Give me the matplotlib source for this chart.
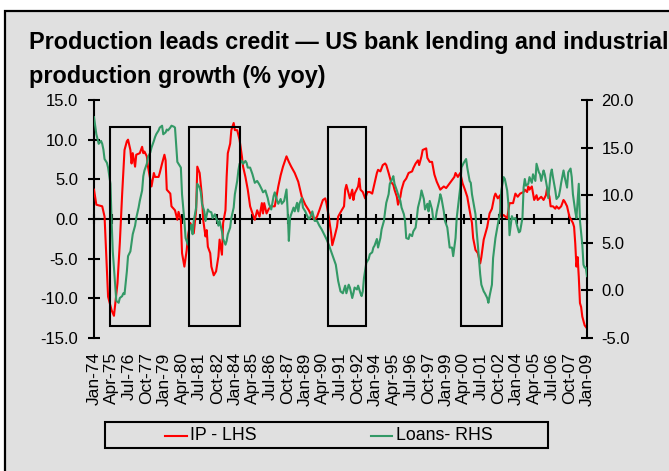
import matplotlib
matplotlib.use("Agg")
import matplotlib.pyplot as plt
from matplotlib.patches import Rectangle
from matplotlib.lines import Line2D

plt.rcParams['font.family'] = ['Liberation Sans', 'DejaVu Sans']

# industrial production, % yoy (left axis)
ip = [
    ("1974-01", 3.7), ("1974-03", 1.8), ("1974-08", 1.6), ("1974-10", 0.3),
    ("1975-01", -9.8), ("1975-04", -11.5), ("1975-06", -12.2), ("1975-09", -8.1),
    ("1975-11", -3.0), ("1976-01", 3.2), ("1976-03", 8.7), ("1976-05", 9.8),
    ("1976-06", 10.0), ("1976-08", 8.7), ("1976-09", 7.0), ("1976-10", 8.3),
    ("1976-12", 6.6), ("1977-01", 8.1), ("1977-04", 8.3), ("1977-06", 9.1),
    ("1977-07", 8.3), ("1977-08", 8.5), ("1977-10", 7.9), ("1977-11", 6.6),
    ("1978-02", 4.1), ("1978-04", 5.8), ("1978-05", 5.3), ("1978-08", 5.3),
    ("1978-09", 5.8), ("1978-11", 7.0), ("1979-01", 8.1), ("1979-02", 7.4),
    ("1979-03", 3.7), ("1979-06", 3.2), ("1979-07", 1.6), ("1979-10", 1.1),
    ("1979-12", -0.1), ("1980-01", 0.9), ("1980-03", -0.1), ("1980-04", -4.3),
    ("1980-06", -6.0), ("1980-08", -3.9), ("1980-09", -2.2), ("1980-11", -0.5),
    ("1980-12", -1.0), ("1981-02", -1.8), ("1981-04", 1.1), ("1981-05", 6.6),
    ("1981-07", 5.8), ("1981-09", 2.8), ("1981-10", -0.1), ("1981-12", -2.2),
    ("1982-01", -1.4), ("1982-02", -3.5), ("1982-04", -4.3), ("1982-05", -6.0),
    ("1982-07", -7.1), ("1982-09", -6.6), ("1982-11", -4.7), ("1982-12", -2.6),
    ("1983-02", -4.5), ("1983-03", -0.5), ("1983-05", 1.1), ("1983-06", 5.3),
    ("1983-07", 8.3), ("1983-09", 9.5), ("1983-10", 11.2), ("1983-12", 12.1),
    ("1984-01", 11.2), ("1984-03", 11.2), ("1984-05", 10.0), ("1984-07", 7.9),
    ("1984-08", 6.6), ("1984-10", 5.3), ("1984-12", 3.7), ("1985-02", 1.6),
    ("1985-04", 0.7), ("1985-06", -0.1), ("1985-08", 1.1), ("1985-10", 0.3),
    ("1985-12", 2.0), ("1986-01", 0.7), ("1986-02", 2.0), ("1986-04", 0.7),
    ("1986-06", 1.3), ("1986-08", 1.6), ("1986-11", 1.6), ("1987-02", 4.1),
    ("1987-04", 5.5), ("1987-06", 6.6), ("1987-09", 7.9), ("1987-11", 7.2),
    ("1988-01", 6.6), ("1988-04", 5.8), ("1988-07", 4.7), ("1988-10", 2.8),
    ("1989-01", 1.8), ("1989-04", 1.1), ("1989-06", 0.5), ("1989-09", -0.1),
    ("1989-11", 0.3), ("1990-01", 1.1), ("1990-04", 2.4), ("1990-06", 2.6),
    ("1990-07", 2.0), ("1990-09", 0.3), ("1990-11", -1.8), ("1990-12", -3.3),
    ("1991-02", -2.2), ("1991-04", -1.0), ("1991-05", 0.3), ("1991-08", 1.1),
    ("1991-10", 1.6), ("1991-11", 3.7), ("1991-12", 4.3), ("1992-03", 2.6),
    ("1992-05", 3.7), ("1992-06", 2.4), ("1992-07", 3.2), ("1992-10", 4.1),
    ("1992-11", 5.1), ("1992-12", 3.7), ("1993-02", 3.4), ("1993-04", 2.6),
    ("1993-06", 3.4), ("1993-08", 3.4), ("1993-10", 3.2), ("1993-12", 4.5),
    ("1994-02", 5.8), ("1994-03", 6.2), ("1994-05", 6.0), ("1994-07", 6.8),
    ("1994-09", 7.0), ("1994-10", 6.8), ("1994-12", 5.8), ("1995-02", 4.7),
    ("1995-04", 4.3), ("1995-05", 3.7), ("1995-07", 2.8), ("1995-08", 1.8),
    ("1995-10", 2.8), ("1995-11", 3.7), ("1996-01", 4.7), ("1996-03", 5.1),
    ("1996-05", 5.8), ("1996-08", 6.0), ("1996-09", 6.4), ("1996-11", 7.0),
    ("1997-01", 7.4), ("1997-02", 6.8), ("1997-04", 7.9), ("1997-05", 8.7),
    ("1997-08", 8.9), ("1997-09", 7.7), ("1997-11", 7.2), ("1998-01", 7.2),
    ("1998-03", 5.6), ("1998-05", 4.7), ("1998-08", 3.7), ("1998-11", 4.1),
    ("1999-01", 3.9), ("1999-04", 4.5), ("1999-06", 4.9), ("1999-08", 5.3),
    ("1999-09", 5.8), ("1999-11", 5.3), ("2000-01", 5.8), ("2000-03", 4.5),
    ("2000-05", 3.7), ("2000-07", 2.8), ("2000-09", 1.1), ("2000-11", -0.5),
    ("2000-12", -2.4), ("2001-02", -3.9), ("2001-04", -4.3), ("2001-06", -5.6),
    ("2001-07", -4.8), ("2001-09", -2.6), ("2001-12", -1.0), ("2002-02", 0.7),
    ("2002-04", 1.3), ("2002-06", 2.8), ("2002-07", 3.2), ("2002-09", 2.6),
    ("2002-11", 3.0), ("2002-12", 0.3), ("2003-02", 0.5), ("2003-05", 0.1),
    ("2003-07", 2.0), ("2003-10", 2.0), ("2003-12", 3.2), ("2004-02", 2.8),
    ("2004-04", 3.2), ("2004-07", 3.4), ("2004-08", 3.7), ("2004-10", 3.4),
    ("2004-11", 4.1), ("2004-12", 3.7), ("2005-02", 4.1), ("2005-04", 2.4),
    ("2005-06", 3.0), ("2005-07", 2.4), ("2005-10", 2.8), ("2005-12", 2.4),
    ("2006-02", 3.0), ("2006-03", 3.9), ("2006-05", 2.8), ("2006-06", 1.6),
    ("2006-08", 1.6), ("2006-10", 1.3), ("2006-11", 1.6), ("2007-01", 1.3),
    ("2007-03", 1.6), ("2007-05", 2.4), ("2007-06", 2.2), ("2007-08", 1.6),
    ("2007-10", 0.3), ("2008-01", -0.5), ("2008-02", -1.0), ("2008-03", -3.1),
    ("2008-04", -6.0), ("2008-05", -4.8), ("2008-06", -7.3), ("2008-07", -10.6),
    ("2008-08", -11.1), ("2008-09", -12.3), ("2008-11", -13.4), ("2009-01", -13.8),
]

# bank loans, % yoy (right axis)
loans = [
    ("1974-01", 18.2), ("1974-03", 16.4), ("1974-04", 15.9), ("1974-05", 15.4),
    ("1974-07", 15.7), ("1974-08", 15.4), ("1974-09", 14.8), ("1974-10", 13.8),
    ("1974-12", 13.4), ("1975-01", 12.9), ("1975-03", 11.2), ("1975-04", 7.3),
    ("1975-05", 4.1), ("1975-07", 0.6), ("1975-08", -1.1), ("1975-10", -1.3),
    ("1975-11", -0.8), ("1976-01", -0.6), ("1976-02", -0.3), ("1976-03", -0.4),
    ("1976-05", 2.0), ("1976-06", 3.6), ("1976-08", 4.1), ("1976-09", 5.0),
    ("1976-10", 5.9), ("1976-12", 6.8), ("1977-01", 7.6), ("1977-03", 8.7),
    ("1977-04", 9.4), ("1977-06", 10.5), ("1977-07", 12.0), ("1977-08", 12.6),
    ("1977-10", 13.3), ("1977-11", 14.0), ("1978-01", 14.5), ("1978-02", 15.0),
    ("1978-04", 15.7), ("1978-05", 16.1), ("1978-06", 16.4), ("1978-08", 16.8),
    ("1978-09", 17.1), ("1978-11", 17.3), ("1978-12", 16.4), ("1979-02", 16.6),
    ("1979-03", 16.9), ("1979-04", 16.8), ("1979-06", 17.1), ("1979-07", 17.3),
    ("1979-09", 17.2), ("1979-10", 17.1), ("1979-12", 13.5), ("1980-01", 13.3),
    ("1980-03", 12.9), ("1980-04", 10.1), ("1980-06", 7.3), ("1980-07", 5.5),
    ("1980-09", 4.8), ("1980-10", 6.2), ("1980-12", 6.9), ("1981-01", 5.9),
    ("1981-02", 7.3), ("1981-04", 8.7), ("1981-05", 11.2), ("1981-07", 10.8),
    ("1981-08", 10.3), ("1981-09", 9.1), ("1981-11", 8.3), ("1981-12", 7.3),
    ("1982-02", 8.5), ("1982-03", 8.3), ("1982-05", 8.2), ("1982-06", 7.6),
    ("1982-08", 8.0), ("1982-09", 7.6), ("1982-10", 7.3), ("1982-11", 6.8),
    ("1982-12", 7.3), ("1983-02", 6.2), ("1983-03", 5.4), ("1983-05", 4.8),
    ("1983-06", 5.2), ("1983-07", 5.9), ("1983-09", 6.6), ("1983-10", 7.6),
    ("1983-12", 8.7), ("1984-01", 10.1), ("1984-03", 11.5), ("1984-04", 12.6),
    ("1984-05", 13.3), ("1984-07", 13.6), ("1984-08", 13.3), ("1984-10", 13.6),
    ("1984-11", 13.4), ("1984-12", 12.9), ("1985-02", 12.9), ("1985-04", 12.2),
    ("1985-06", 11.3), ("1985-08", 11.5), ("1985-10", 11.1), ("1985-12", 10.6),
    ("1986-01", 10.3), ("1986-03", 10.5), ("1986-05", 9.7), ("1986-06", 9.1),
    ("1986-08", 8.5), ("1986-10", 9.9), ("1986-11", 10.3), ("1987-01", 9.4),
    ("1987-02", 9.1), ("1987-04", 9.6), ("1987-05", 9.1), ("1987-07", 9.4),
    ("1987-09", 10.6), ("1987-10", 8.3), ("1987-11", 5.2), ("1987-12", 7.6),
    ("1988-01", 8.0), ("1988-03", 8.7), ("1988-04", 8.3), ("1988-06", 9.2),
    ("1988-07", 8.3), ("1988-08", 9.1), ("1988-10", 9.7), ("1988-11", 8.7),
    ("1989-01", 8.3), ("1989-02", 8.0), ("1989-04", 7.5), ("1989-05", 7.6),
    ("1989-07", 8.3), ("1989-09", 7.3), ("1989-11", 7.3), ("1990-01", 6.8),
    ("1990-03", 6.4), ("1990-05", 5.9), ("1990-07", 5.4), ("1990-09", 4.8),
    ("1990-11", 4.1), ("1991-01", 3.4), ("1991-03", 2.7), ("1991-05", 1.0),
    ("1991-07", -0.1), ("1991-09", -0.3), ("1991-11", 0.5), ("1991-12", -0.3),
    ("1992-02", 0.6), ("1992-03", 0.3), ("1992-05", -0.8), ("1992-06", -0.3),
    ("1992-07", 0.3), ("1992-09", 0.1), ("1992-10", 0.5), ("1992-12", -0.3),
    ("1993-01", -0.6), ("1993-02", -0.1), ("1993-03", 1.3), ("1993-05", 2.9),
    ("1993-07", 3.3), ("1993-08", 3.8), ("1993-10", 4.0), ("1993-11", 4.5),
    ("1993-12", 4.7), ("1994-02", 5.4), ("1994-03", 4.5), ("1994-05", 5.5),
    ("1994-06", 6.4), ("1994-08", 7.3), ("1994-09", 8.3), ("1994-10", 9.2),
    ("1994-12", 10.1), ("1995-01", 11.2), ("1995-03", 11.7), ("1995-04", 12.0),
    ("1995-05", 11.2), ("1995-07", 10.5), ("1995-08", 10.1), ("1995-10", 9.4),
    ("1995-11", 8.7), ("1996-01", 8.0), ("1996-02", 7.3), ("1996-03", 5.5),
    ("1996-05", 5.4), ("1996-06", 5.9), ("1996-08", 5.7), ("1996-09", 6.2),
    ("1996-11", 6.6), ("1996-12", 7.6), ("1997-01", 8.7), ("1997-03", 9.7),
    ("1997-04", 10.5), ("1997-06", 9.6), ("1997-07", 8.5), ("1997-09", 9.1),
    ("1997-10", 8.3), ("1997-11", 9.4), ("1998-01", 8.5), ("1998-02", 7.5),
    ("1998-04", 7.5), ("1998-05", 8.3), ("1998-07", 9.4), ("1998-08", 10.1),
    ("1998-09", 9.7), ("1998-11", 8.3), ("1998-12", 7.3), ("1999-02", 6.6),
    ("1999-03", 5.5), ("1999-04", 4.5), ("1999-06", 4.5), ("1999-07", 3.6),
    ("1999-09", 5.5), ("1999-10", 7.6), ("1999-11", 8.7), ("2000-01", 10.8),
    ("2000-02", 12.9), ("2000-04", 13.4), ("2000-06", 13.8), ("2000-07", 12.9),
    ("2000-09", 11.5), ("2000-10", 11.3), ("2000-11", 10.1), ("2000-12", 9.4),
    ("2001-02", 8.0), ("2001-03", 6.2), ("2001-04", 4.8), ("2001-06", 1.7),
    ("2001-07", 0.6), ("2001-09", -0.1), ("2001-10", -0.3), ("2001-12", -0.8),
    ("2002-01", -1.3), ("2002-02", -0.6), ("2002-04", 0.6), ("2002-05", 3.4),
    ("2002-07", 5.5), ("2002-08", 6.2), ("2002-09", 6.9), ("2002-11", 8.3),
    ("2002-12", 10.5), ("2003-02", 11.9), ("2003-03", 11.7), ("2003-05", 10.5),
    ("2003-06", 9.1), ("2003-07", 5.8), ("2003-09", 7.8), ("2003-10", 7.5),
    ("2003-12", 7.6), ("2004-01", 7.0), ("2004-03", 6.1), ("2004-04", 6.2),
    ("2004-06", 7.6), ("2004-07", 10.8), ("2004-08", 11.7), ("2004-09", 11.0),
    ("2004-11", 11.2), ("2004-12", 11.9), ("2005-02", 11.3), ("2005-03", 12.2),
    ("2005-05", 11.5), ("2005-06", 13.3), ("2005-08", 12.4), ("2005-09", 12.2),
    ("2005-10", 11.5), ("2005-12", 12.6), ("2006-01", 12.2), ("2006-03", 10.8),
    ("2006-04", 9.7), ("2006-06", 12.2), ("2006-07", 12.7), ("2006-08", 11.9),
    ("2006-10", 10.5), ("2006-11", 9.6), ("2007-01", 9.9), ("2007-02", 10.5),
    ("2007-03", 11.3), ("2007-05", 12.6), ("2007-06", 11.9), ("2007-08", 10.8),
    ("2007-09", 12.4), ("2007-11", 12.8), ("2007-12", 11.9), ("2008-01", 10.1),
    ("2008-03", 8.3), ("2008-04", 7.6), ("2008-06", 11.2), ("2008-07", 7.3),
    ("2008-09", 4.8), ("2008-10", 2.7), ("2008-11", 2.4), ("2008-12", 2.4),
    ("2009-01", 1.5),
]

# highlighted periods (start, end) where production turns first
periods = [("1975-02", "1977-12"), ("1980-09", "1984-05"),
           ("1990-08", "1993-04"), ("2000-01", "2002-12")]
box_low, box_high = -13.5, 11.6

months = ["Jan", "Feb", "Mar", "Apr", "May", "Jun",
          "Jul", "Aug", "Sep", "Oct", "Nov", "Dec"]


def month_index(s):
    y, m = s.split("-")
    return (int(y) - 1974) * 12 + int(m) - 1


ip_x = [month_index(d) for d, v in ip]
ip_y = [v for d, v in ip]
loan_x = [month_index(d) for d, v in loans]
loan_y = [v for d, v in loans]

W, H = 669, 471
bg = "#e0e0e0"
fig = plt.figure(figsize=(W / 100, H / 100), dpi=100, facecolor="white")

# grey chart area with black frame
fig.patches.append(Rectangle((5 / W, -0.1), 1.2, 1.1 - 11 / H, transform=fig.transFigure,
                             facecolor=bg, edgecolor="black", linewidth=1.6, zorder=-5))

ax = fig.add_axes([94 / W, 1 - 338 / H, (587 - 94) / W, (338 - 100) / H])
ax.set_facecolor("none")
ax2 = ax.twinx()
ax2.set_facecolor("none")

red, = ax.plot(ip_x, ip_y, color="#ff0000", lw=1.5, zorder=3)
green, = ax2.plot(loan_x, loan_y, color="#339966", lw=1.5, zorder=3)

ax.set_xlim(0, 420)
ax.set_ylim(-15, 15)
ax2.set_ylim(-5, 20)

for s, e in periods:
    x0, x1 = month_index(s) + 0.6, month_index(e) + 0.6
    ax2.add_patch(Rectangle((x0, box_low), x1 - x0, box_high - box_low,
                            transform=ax.transData, fill=False,
                            edgecolor="black", linewidth=1.5, zorder=4))

# spines: left/right value axes, category axis through zero
for a in (ax, ax2):
    a.spines["top"].set_visible(False)
ax.spines["right"].set_visible(False)
ax2.spines["left"].set_visible(False)
ax2.spines["bottom"].set_visible(False)
ax.spines["bottom"].set_position(("data", 0))
for sp in (ax.spines["left"], ax.spines["bottom"], ax2.spines["right"]):
    sp.set_linewidth(1.5)

ax.set_yticks(range(-15, 16, 5))
ax.set_yticklabels([f"{v:.1f}" for v in range(-15, 16, 5)])
ax2.set_yticks(range(-5, 21, 5))
ax2.set_yticklabels([f"{v:.1f}" for v in range(-5, 21, 5)])
ax.tick_params(axis="y", direction="inout", length=9, width=1.5, labelsize=12, pad=7)
ax2.tick_params(axis="y", direction="inout", length=9, width=1.5, labelsize=12, pad=6)

ticks = list(range(0, 421, 15))
ax.set_xticks(ticks)
ax.tick_params(axis="x", direction="inout", length=7.5, width=1.5, labelbottom=False)
for t in ticks:
    lab = f"{months[t % 12]}-{(1974 + t // 12) % 100:02d}"
    ax.text(t, -0.06, lab, transform=ax.get_xaxis_transform(), rotation=90,
            ha="center", va="top", fontsize=12.5)

# title
fig.text(29 / W, 1 - 49 / H, "Production leads credit \u2014 US bank lending and industrial",
         fontsize=16.8, fontweight="bold", va="baseline", ha="left")
fig.text(29 / W, 1 - 83 / H, "production growth (% yoy)",
         fontsize=16.8, fontweight="bold", va="baseline", ha="left")

# legend box
fig.patches.append(Rectangle((105 / W, 1 - 448 / H), 443 / W, 26 / H, transform=fig.transFigure,
                             facecolor=bg, edgecolor="black", linewidth=1.5))
ly = 1 - 436 / H
fig.add_artist(Line2D([165 / W, 187 / W], [ly, ly], color=red.get_color(), lw=1.5))
fig.text(190 / W, ly, "IP - LHS", fontsize=12.8, va="center", ha="left")
fig.add_artist(Line2D([371 / W, 392 / W], [ly, ly], color=green.get_color(), lw=1.5))
fig.text(396 / W, ly, "Loans- RHS", fontsize=12.8, va="center", ha="left")

fig.savefig("out.png", dpi=100, facecolor=fig.get_facecolor())
